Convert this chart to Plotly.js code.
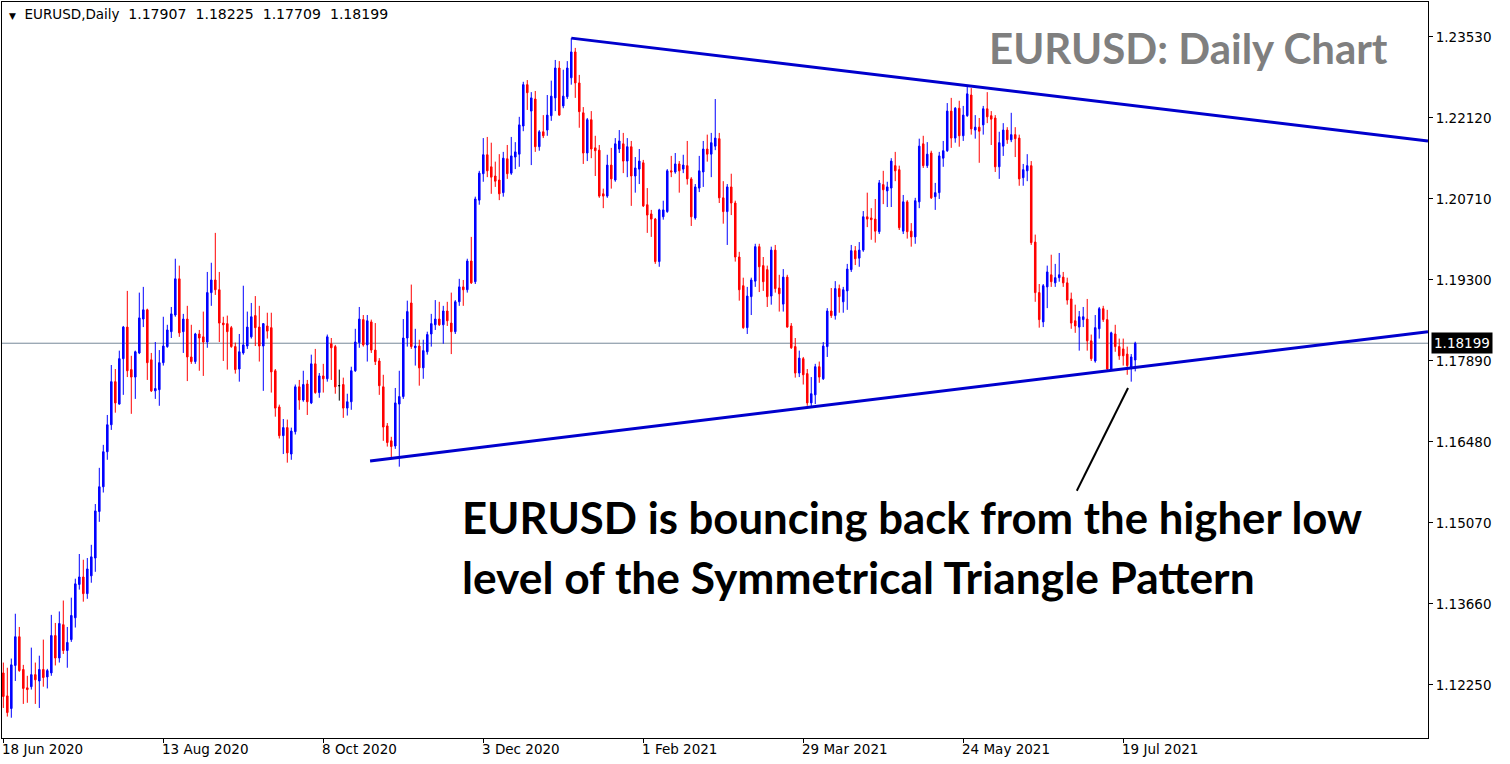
<!DOCTYPE html>
<html><head><meta charset="utf-8">
<script src="https://cdn.plot.ly/plotly-3.0.1.min.js"></script>
<style>html,body{margin:0;padding:0;background:#fff;overflow:hidden}#chart{width:1510px;height:764px}</style>
</head><body><div id="chart"></div>
<script>
const symbolName = 'EURUSD,Daily';
const symbolQuotes = ['1.17907', '1.18225', '1.17709', '1.18199'];
const chartTitle = 'EURUSD: Daily Chart';
const noteLines = ['EURUSD is bouncing back from the higher low', 'level of the Symmetrical Triangle Pattern'];

const openP = [1.1246,1.1206,1.1184,1.1259,1.1309,1.1252,1.1220,1.1222,1.1243,1.1232,1.1252,1.1239,1.1246,1.1311,1.1272,1.1330,1.1285,1.1304,1.1342,1.1400,
1.1413,1.1384,1.1415,1.1446,1.1527,1.1570,1.1631,1.1678,1.1753,1.1714,1.1793,1.1848,1.1774,1.1761,1.1803,1.1862,1.1878,1.1791,1.1737,1.1739,
1.1786,1.1814,1.1840,1.1869,1.1932,1.1840,1.1862,1.1796,1.1788,1.1836,1.1831,1.1822,1.1908,1.1930,1.1913,1.1855,1.1854,1.1847,1.1814,1.1775,
1.1803,1.1815,1.1831,1.1868,1.1848,1.1815,1.1850,1.1847,1.1772,1.1709,1.1659,1.1673,1.1627,1.1666,1.1744,1.1721,1.1749,1.1716,1.1784,1.1734,
1.1763,1.1758,1.1819,1.1814,1.1746,1.1748,1.1707,1.1718,1.1772,1.1821,1.1861,1.1817,1.1857,1.1808,1.1789,1.1744,1.1676,1.1650,1.1641,1.1714,
1.1727,1.1829,1.1890,1.1812,1.1815,1.1777,1.1805,1.1836,1.1852,1.1862,1.1852,1.1876,1.1855,1.1840,1.1892,1.1918,1.1913,1.1963,1.1927,1.2069,
1.2115,1.2148,1.2127,1.2111,1.2104,1.2082,1.2141,1.2116,1.2144,1.2149,1.2198,1.2270,1.2224,1.2245,1.2162,1.2188,1.2191,1.2216,1.2247,1.2299,
1.2233,1.2249,1.2282,1.2327,1.2273,1.2221,1.2151,1.2209,1.2160,1.2156,1.2080,1.2076,1.2130,1.2104,1.2158,1.2167,1.2137,1.2162,1.2111,1.2123,
1.2134,1.2061,1.2045,1.2036,1.1962,1.2040,1.2049,1.2120,1.2118,1.2132,1.2123,1.2129,1.2106,1.2038,1.2090,1.2118,1.2158,1.2149,1.2163,1.2176,
1.2073,1.2049,1.2092,1.2064,1.1970,1.1920,1.1847,1.1901,1.1928,1.1988,1.1955,1.1948,1.1902,1.1982,1.1916,1.1888,1.1935,1.1850,1.1814,1.1768,
1.1793,1.1767,1.1716,1.1730,1.1779,1.1758,1.1814,1.1876,1.1868,1.1915,1.1892,1.1911,1.1948,1.1981,1.1968,1.1982,1.2040,1.2038,1.2036,1.2014,
1.2096,1.2085,1.2090,1.2129,1.2122,1.2015,1.2066,1.2015,1.2005,1.2066,1.2167,1.2129,1.2151,1.2075,1.2082,1.2142,1.2155,1.2224,1.2177,1.2229,
1.2181,1.2216,1.2252,1.2191,1.2196,1.2200,1.2228,1.2216,1.2212,1.2127,1.2163,1.2191,1.2174,1.2183,1.2177,1.2108,1.2120,1.2129,1.1996,1.1908,
1.1857,1.1918,1.1939,1.1925,1.1934,1.1935,1.1925,1.1897,1.1859,1.1848,1.1861,1.1862,1.1824,1.1789,1.1845,1.1880,1.1861,1.1775,1.1836,1.1814,
1.1810,1.1801,1.1777,1.17907];

const highP = [1.1264,1.1255,1.1271,1.1349,1.1326,1.1260,1.1241,1.1290,1.1264,1.1276,1.1304,1.1253,1.1347,1.1333,1.1353,1.1372,1.1326,1.1377,1.1410,1.1453,
1.1443,1.1446,1.1469,1.1540,1.1603,1.1643,1.1695,1.1782,1.1775,1.1807,1.1850,1.1911,1.1798,1.1807,1.1908,1.1918,1.1880,1.1803,1.1822,1.1808,
1.1866,1.1852,1.1883,1.1967,1.1955,1.1871,1.1885,1.1852,1.1838,1.1843,1.1875,1.1944,1.1960,1.2012,1.1944,1.1866,1.1868,1.1850,1.1821,1.1836,
1.1920,1.1875,1.1890,1.1902,1.1885,1.1855,1.1873,1.1873,1.1775,1.1713,1.1688,1.1687,1.1673,1.1748,1.1756,1.1772,1.1756,1.1800,1.1810,1.1768,
1.1784,1.1835,1.1829,1.1817,1.1774,1.1760,1.1732,1.1779,1.1845,1.1883,1.1869,1.1869,1.1861,1.1855,1.1794,1.1765,1.1681,1.1657,1.1742,1.1772,
1.1862,1.1894,1.1922,1.1845,1.1826,1.1826,1.1840,1.1871,1.1895,1.1892,1.1885,1.1892,1.1908,1.1895,1.1932,1.1930,1.1967,1.2005,1.2075,1.2120,
1.2177,1.2179,1.2169,1.2136,1.2149,1.2153,1.2165,1.2179,1.2170,1.2214,1.2275,1.2278,1.2257,1.2259,1.2191,1.2217,1.2252,1.2277,1.2313,1.2311,
1.2296,1.2311,1.2351,1.2334,1.2287,1.2231,1.2212,1.2224,1.2181,1.2165,1.2089,1.2148,1.2160,1.2177,1.2191,1.2186,1.2177,1.2172,1.2144,1.2158,
1.2139,1.2090,1.2052,1.2038,1.2054,1.2068,1.2123,1.2146,1.2151,1.2137,1.2148,1.2172,1.2109,1.2097,1.2146,1.2172,1.2183,1.2186,1.2245,1.2186,
1.2102,1.2097,1.2115,1.2068,1.1979,1.1934,1.1918,1.1934,1.1993,1.1993,1.1970,1.1955,1.1988,1.1991,1.1939,1.1949,1.1939,1.1855,1.1829,1.1807,
1.1796,1.1775,1.1761,1.1784,1.1788,1.1822,1.1881,1.1916,1.1928,1.1922,1.1918,1.1958,1.1991,1.1989,1.1996,1.2050,1.2082,1.2055,1.2071,1.2104,
1.2120,1.2101,1.2142,1.2153,1.2129,1.2078,1.2069,1.2029,1.2073,1.2176,1.2181,1.2170,1.2155,1.2099,1.2153,1.2172,1.2238,1.2247,1.2231,1.2242,
1.2233,1.2266,1.2264,1.2217,1.2212,1.2233,1.2257,1.2224,1.2217,1.2188,1.2203,1.2196,1.2221,1.2196,1.2183,1.2132,1.2149,1.2137,1.2009,1.1923,
1.1923,1.1955,1.1974,1.1958,1.1977,1.1944,1.1934,1.1908,1.1887,1.1876,1.1883,1.1897,1.1835,1.1869,1.1883,1.1885,1.1878,1.1840,1.1852,1.1828,
1.1828,1.1814,1.1801,1.18225];

const lowP = [1.1185,1.1170,1.1168,1.1232,1.1248,1.1192,1.1194,1.1217,1.1192,1.1185,1.1222,1.1219,1.1241,1.1259,1.1264,1.1279,1.1255,1.1300,1.1325,1.1391,
1.1370,1.1375,1.1403,1.1422,1.1509,1.1560,1.1617,1.1669,1.1699,1.1713,1.1730,1.1761,1.1697,1.1723,1.1801,1.1848,1.1756,1.1735,1.1723,1.1711,
1.1781,1.1812,1.1829,1.1866,1.1831,1.1803,1.1754,1.1784,1.1784,1.1772,1.1763,1.1812,1.1885,1.1904,1.1822,1.1789,1.1774,1.1812,1.1767,1.1753,
1.1800,1.1810,1.1828,1.1815,1.1788,1.1737,1.1828,1.1734,1.1692,1.1654,1.1627,1.1612,1.1617,1.1661,1.1704,1.1718,1.1695,1.1714,1.1732,1.1725,
1.1734,1.1753,1.1756,1.1732,1.1720,1.1690,1.1694,1.1704,1.1770,1.1812,1.1814,1.1788,1.1803,1.1782,1.1730,1.1650,1.1640,1.1620,1.1636,1.1605,
1.1723,1.1814,1.1810,1.1781,1.1746,1.1758,1.1800,1.1814,1.1843,1.1850,1.1819,1.1850,1.1801,1.1836,1.1885,1.1885,1.1908,1.1923,1.1923,1.2061,
1.2101,1.2109,1.2080,1.2092,1.2069,1.2075,1.2106,1.2113,1.2123,1.2127,1.2189,1.2226,1.2130,1.2153,1.2155,1.2177,1.2181,1.2207,1.2224,1.2216,
1.2229,1.2245,1.2270,1.2247,1.2195,1.2132,1.2137,1.2142,1.2111,1.2073,1.2055,1.2073,1.2089,1.2101,1.2151,1.2116,1.2109,1.2059,1.2082,1.2097,
1.2057,1.2012,1.2005,1.1958,1.1953,1.2035,1.2047,1.2109,1.2115,1.2082,1.2116,1.2096,1.2024,1.2035,1.2083,1.2092,1.2136,1.2109,1.2156,1.2064,
1.2028,1.1991,1.2043,1.1962,1.1894,1.1845,1.1836,1.1869,1.1918,1.1909,1.1911,1.1883,1.1887,1.1908,1.1875,1.1875,1.1847,1.1810,1.1760,1.1761,
1.1748,1.1711,1.1709,1.1714,1.1751,1.1756,1.1796,1.1864,1.1861,1.1873,1.1873,1.1878,1.1944,1.1956,1.1953,1.1979,1.2022,1.2000,1.1995,1.2010,
1.2062,1.2057,1.2057,1.2102,1.2017,1.2010,1.2002,1.1988,1.1993,1.2055,1.2125,1.2125,1.2071,1.2052,1.2071,1.2127,1.2153,1.2160,1.2169,1.2162,
1.2172,1.2214,1.2183,1.2176,1.2134,1.2183,1.2203,1.2165,1.2118,1.2106,1.2146,1.2167,1.2170,1.2144,1.2094,1.2094,1.2102,1.1991,1.1892,1.1847,
1.1848,1.1881,1.1918,1.1918,1.1927,1.1918,1.1887,1.1845,1.1838,1.1807,1.1848,1.1807,1.1789,1.1786,1.1828,1.1857,1.1772,1.1772,1.1805,1.1791,
1.1781,1.1765,1.1753,1.17709];

const closeP = [1.1205,1.1177,1.1260,1.1309,1.1250,1.1219,1.1217,1.1243,1.1234,1.1252,1.1238,1.1250,1.1311,1.1272,1.1332,1.1285,1.1299,1.1346,1.1401,1.1413,
1.1384,1.1427,1.1448,1.1528,1.1570,1.1631,1.1678,1.1753,1.1716,1.1793,1.1848,1.1772,1.1761,1.1805,1.1864,1.1878,1.1786,1.1737,1.1741,1.1786,
1.1815,1.1843,1.1871,1.1932,1.1838,1.1862,1.1796,1.1788,1.1836,1.1829,1.1822,1.1908,1.1930,1.1913,1.1855,1.1852,1.1840,1.1814,1.1774,1.1805,
1.1817,1.1848,1.1866,1.1847,1.1815,1.1854,1.1841,1.1770,1.1707,1.1659,1.1673,1.1629,1.1667,1.1744,1.1721,1.1748,1.1718,1.1784,1.1734,1.1763,
1.1758,1.1831,1.1812,1.1744,1.1746,1.1707,1.1718,1.1772,1.1822,1.1862,1.1817,1.1859,1.1808,1.1788,1.1746,1.1674,1.1647,1.1640,1.1716,1.1727,
1.1829,1.1875,1.1814,1.1815,1.1777,1.1807,1.1835,1.1854,1.1862,1.1852,1.1876,1.1859,1.1840,1.1892,1.1918,1.1913,1.1963,1.1925,1.2071,1.2116,
1.2148,1.2120,1.2109,1.2102,1.2080,1.2142,1.2115,1.2146,1.2153,1.2200,1.2270,1.2256,1.2247,1.2162,1.2188,1.2181,1.2217,1.2250,1.2299,1.2217,
1.2250,1.2299,1.2327,1.2273,1.2223,1.2151,1.2209,1.2158,1.2155,1.2076,1.2076,1.2130,1.2106,1.2167,1.2172,1.2137,1.2162,1.2111,1.2125,1.2137,
1.2059,1.2043,1.2036,1.1962,1.2052,1.2052,1.2120,1.2118,1.2132,1.2120,1.2130,1.2106,1.2040,1.2092,1.2120,1.2158,1.2149,1.2169,1.2177,1.2073,
1.2049,1.2092,1.2064,1.1970,1.1913,1.1847,1.1902,1.1930,1.1988,1.1953,1.1927,1.1901,1.1982,1.1915,1.1906,1.1935,1.1848,1.1812,1.1768,1.1794,
1.1765,1.1716,1.1732,1.1779,1.1761,1.1815,1.1876,1.1868,1.1915,1.1901,1.1913,1.1949,1.1981,1.1967,1.1982,1.2040,1.2036,1.2035,1.2015,1.2099,
1.2087,1.2092,1.2137,1.2120,1.2021,1.2066,1.2014,1.2005,1.2068,1.2163,1.2129,1.2149,1.2073,1.2082,1.2146,1.2155,1.2224,1.2177,1.2229,1.2181,
1.2217,1.2254,1.2193,1.2196,1.2189,1.2228,1.2214,1.2210,1.2127,1.2169,1.2191,1.2174,1.2183,1.2176,1.2106,1.2122,1.2129,1.1995,1.1908,1.1861,
1.1920,1.1944,1.1927,1.1934,1.1939,1.1925,1.1895,1.1855,1.1850,1.1866,1.1866,1.1824,1.1793,1.1847,1.1880,1.1861,1.1775,1.1838,1.1814,1.1798,
1.1798,1.1781,1.1796,1.18199];

// bar index of each date label on the time axis
const dateTickIdx = [0, 40, 80, 120, 160, 200, 240, 280];
const dateTickText = ['18 Jun 2020','13 Aug 2020','8 Oct 2020','3 Dec 2020','1 Feb 2021','29 Mar 2021','24 May 2021','19 Jul 2021'];
const priceTicks = [1.1225, 1.1366, 1.1507, 1.1648, 1.1789, 1.1930, 1.2071, 1.2212, 1.2353];
const lastPrice = 1.18199;
// trend lines: [bar index, price]
const upperTrend = [[142, 1.2351], [356.2, 1.2172]];
const lowerTrend = [[91.7, 1.1615], [356.2, 1.1840]];
const pointerLine = [[268.4, 1.1563], [281.2, 1.1742]];

const idx = openP.map((_, i) => i);
const normal = idx.filter(i => openP[i] !== closeP[i]);
const doji = idx.filter(i => openP[i] === closeP[i]);
const pick = (arr, ids) => ids.map(i => arr[i]);

const BLUE = '#0000FF', RED = '#FF0000';
const traces = [{
  type: 'candlestick',
  x: normal, open: pick(openP, normal), high: pick(highP, normal), low: pick(lowP, normal), close: pick(closeP, normal),
  increasing: {line: {color: BLUE, width: 1}, fillcolor: BLUE},
  decreasing: {line: {color: RED, width: 1}, fillcolor: RED},
  whiskerwidth: 0, hoverinfo: 'skip', showlegend: false
}, {
  type: 'candlestick',
  x: doji, open: pick(openP, doji), high: pick(highP, doji), low: pick(lowP, doji), close: pick(closeP, doji),
  increasing: {line: {color: '#000', width: 1}, fillcolor: '#000'},
  decreasing: {line: {color: '#000', width: 1}, fillcolor: '#000'},
  whiskerwidth: 0, hoverinfo: 'skip', showlegend: false
}];

const FONT = 'DejaVu Sans, sans-serif';
const annotations = [];
dateTickIdx.forEach((v, k) => annotations.push({
  x: v, xref: 'x', y: 0, yref: 'paper', yanchor: 'top', xanchor: 'left', xshift: -3, yshift: -1,
  text: dateTickText[k], showarrow: false, font: {family: FONT, size: 13.5, color: '#000'}
}));
annotations.push({
  x: 0.0035, xref: 'paper', y: 0.984, yref: 'paper', xanchor: 'left', yanchor: 'middle', showarrow: false,
  text: '<span style="font-size:9px">▼</span>\u00a0\u00a0' + symbolName + '\u00a0\u00a0' +
        '<span style="font-size:14.1px">' + symbolQuotes.join('\u00a0\u00a0') + '</span>',
  font: {family: FONT, size: 13.5, color: '#000'}
});
annotations.push({
  x: 0.9734, xref: 'paper', y: 0.9375, yref: 'paper', xanchor: 'right', yanchor: 'middle', showarrow: false,
  text: '<b>' + chartTitle + '</b>', font: {family: 'Lato, sans-serif', size: 42, color: '#7f7f7f'}
});
annotations.push({
  x: 0.3212, xref: 'paper', y: 0.3003, yref: 'paper', xanchor: 'left', yanchor: 'middle', showarrow: false,
  text: '<b>' + noteLines[0] + '</b>', font: {family: 'Lato, sans-serif', size: 43.7, color: '#000'}
});
annotations.push({
  x: 0.3212, xref: 'paper', y: 0.2201, yref: 'paper', xanchor: 'left', yanchor: 'middle', showarrow: false,
  text: '<b>' + noteLines[1] + '</b>', font: {family: 'Lato, sans-serif', size: 44.3, color: '#000'}
});
annotations.push({
  x: 1, xref: 'paper', y: lastPrice, yref: 'y', xanchor: 'left', yanchor: 'middle', xshift: 3, showarrow: false,
  text: lastPrice.toFixed(5), bgcolor: '#000', borderpad: 2, font: {family: FONT, size: 13.5, color: '#fff'}
});

const shapes = [
  {type: 'line', xref: 'paper', x0: 0, x1: 1, yref: 'y', y0: lastPrice, y1: lastPrice, layer: 'below', line: {color: '#778899', width: 1}},
  {type: 'line', xref: 'x', yref: 'y', x0: upperTrend[0][0], y0: upperTrend[0][1], x1: upperTrend[1][0], y1: upperTrend[1][1], line: {color: '#0000CD', width: 3}},
  {type: 'line', xref: 'x', yref: 'y', x0: lowerTrend[0][0], y0: lowerTrend[0][1], x1: lowerTrend[1][0], y1: lowerTrend[1][1], line: {color: '#0000CD', width: 3}},
  {type: 'line', xref: 'x', yref: 'y', x0: pointerLine[0][0], y0: pointerLine[0][1], x1: pointerLine[1][0], y1: pointerLine[1][1], line: {color: '#000', width: 2}}
];

const layout = {
  width: 1510, height: 764,
  margin: {l: 2, r: 82, t: 2, b: 26, pad: 0},
  paper_bgcolor: '#fff', plot_bgcolor: '#fff',
  showlegend: false, boxgap: 0.45, hovermode: false,
  xaxis: {
    range: [-0.33, 356.2], showgrid: false, zeroline: false,
    showline: true, mirror: true, linecolor: '#000', linewidth: 1,
    ticks: 'outside', ticklen: 4, tickcolor: '#000', tickvals: dateTickIdx, showticklabels: false,
    rangeslider: {visible: false}, fixedrange: true
  },
  yaxis: {
    side: 'right', range: [1.11327, 1.24139], showgrid: false, zeroline: false,
    showline: true, mirror: true, linecolor: '#000', linewidth: 1,
    ticks: 'outside', ticklen: 4, tickcolor: '#000', tickvals: priceTicks, tickformat: '.5f',
    tickfont: {family: FONT, size: 13.5, color: '#000'}, fixedrange: true
  },
  annotations: annotations, shapes: shapes
};
Plotly.newPlot('chart', traces, layout, {displayModeBar: false, staticPlot: true});
</script></body></html>
